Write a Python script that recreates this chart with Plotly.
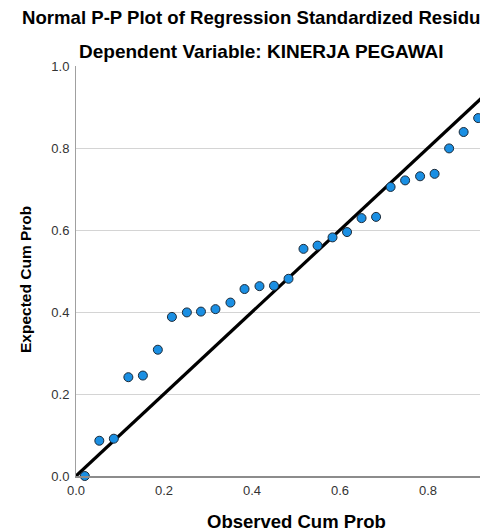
import plotly.graph_objects as go

# Data
observed_cum_prob = [0.020, 0.053, 0.086, 0.119, 0.152, 0.186, 0.218, 0.252, 0.284, 0.317,
                     0.351, 0.383, 0.417, 0.450, 0.483, 0.517, 0.549, 0.583, 0.616, 0.649,
                     0.682, 0.715, 0.748, 0.782, 0.815, 0.848, 0.881, 0.914]
expected_cum_prob = [0.000, 0.086, 0.091, 0.241, 0.245, 0.308, 0.388, 0.399, 0.401, 0.407,
                     0.423, 0.456, 0.463, 0.464, 0.481, 0.554, 0.562, 0.582, 0.595, 0.629,
                     0.632, 0.705, 0.721, 0.731, 0.737, 0.799, 0.839, 0.873]
ref_line_x = [0.0, 1.0]
ref_line_y = [0.0, 1.0]
tick_vals = [0.0, 0.2, 0.4, 0.6, 0.8, 1.0]
tick_text = ["0.0", "0.2", "0.4", "0.6", "0.8", "1.0"]

W, H = 480, 532
L, R, T, B = 76, 0, 66, 56
unit_px = 440.0
x_max = (W - L - R) / unit_px

fig = go.Figure()
fig.add_trace(go.Scatter(x=ref_line_x, y=ref_line_y, mode="lines",
                         line=dict(color="black", width=3.2), hoverinfo="skip",
                         showlegend=False))
fig.add_trace(go.Scatter(x=observed_cum_prob, y=expected_cum_prob, mode="markers",
                         marker=dict(size=9, color="#1a8fe3",
                                     line=dict(color="#1c2a38", width=1)),
                         showlegend=False, cliponaxis=False))

font_family = "Liberation Sans, Arial, sans-serif"
fig.update_layout(
    width=W, height=H,
    margin=dict(l=L, r=R, t=T, b=B),
    paper_bgcolor="white", plot_bgcolor="white",
    xaxis=dict(range=[0, x_max], tickvals=tick_vals, ticktext=tick_text,
               showgrid=False, zeroline=False, showline=True, linecolor="#8c8c8c",
               linewidth=1.5, ticks="", tickfont=dict(family=font_family, size=13, color="#333333"),
               ticklabelstandoff=2),
    yaxis=dict(range=[0, 1], tickvals=tick_vals, ticktext=tick_text,
               showgrid=True, gridcolor="#d4d4d4", gridwidth=1, zeroline=False,
               showline=True, linecolor="#a0a0a0", linewidth=1, ticks="",
               ticklabelstandoff=3,
               tickfont=dict(family=font_family, size=13, color="#333333")),
    font=dict(family=font_family),
    annotations=[
        dict(text="<b>Normal P-P Plot of Regression Standardized Residual</b>",
             xref="paper", yref="paper", x=(20 - L) / (W - L), y=1 + (T - 18) / (H - T - B),
             xanchor="left", yanchor="middle", showarrow=False,
             font=dict(size=18.6, color="black", family=font_family)),
        dict(text="<b>Dependent Variable: KINERJA PEGAWAI</b>",
             xref="paper", yref="paper", x=(77 - L) / (W - L), y=1 + (T - 52) / (H - T - B),
             xanchor="left", yanchor="middle", showarrow=False,
             font=dict(size=19, color="black", family=font_family)),
        dict(text="<b>Observed Cum Prob</b>",
             xref="x", yref="paper", x=0.5, y=-(521 - (H - B)) / (H - T - B),
             xanchor="center", yanchor="middle", showarrow=False,
             font=dict(size=18.5, color="black", family=font_family)),
        dict(text="<b>Expected Cum Prob</b>", textangle=-90,
             xref="paper", yref="paper", x=(25 - L) / (W - L),
             y=(H - B - 280) / (H - T - B),
             xanchor="center", yanchor="middle", showarrow=False,
             font=dict(size=15.5, color="black", family=font_family)),
    ],
)

fig.write_html("out.html", config={"displayModeBar": False},
               post_script="document.body.style.margin='0px';")
